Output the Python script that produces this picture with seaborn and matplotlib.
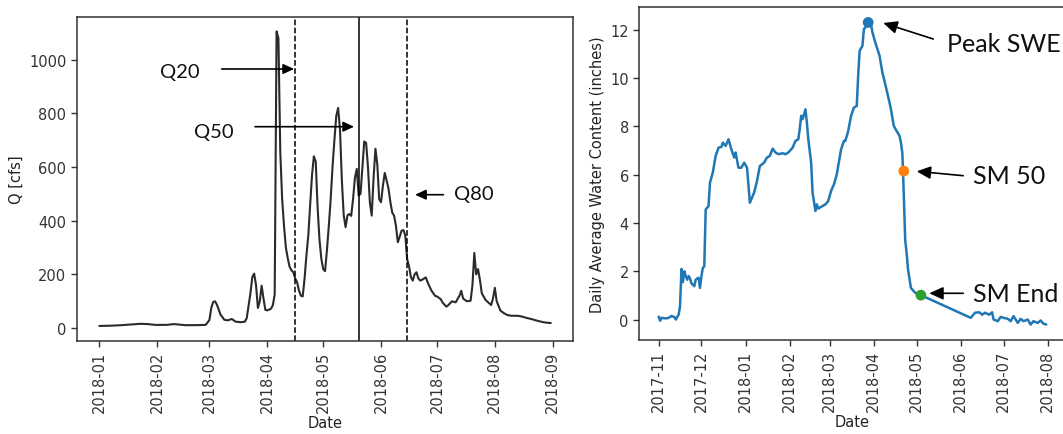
import numpy as np
import pandas as pd
import matplotlib
matplotlib.use("Agg")
import matplotlib.pyplot as plt
import matplotlib.dates as mdates
import seaborn as sns

# ---------------- data: left panel (daily discharge, days since q_start) ----------------
q_start = "2018-01-01"
q_day = [0, 6, 12, 18, 22, 26, 30, 36, 40, 46, 52, 57, 59, 60, 61, 62, 63, 65, 67, 69,
         71, 73, 76, 78, 79, 81, 82, 83, 84, 85, 86, 87, 88, 89, 90, 92, 93, 94, 95, 96,
         97, 98, 99, 100, 101, 102, 103, 104, 105, 106, 107, 108, 109, 110, 111, 112, 113, 114, 115, 116,
         117, 118, 119, 120, 121, 122, 123, 124, 125, 126, 127, 128, 129, 130, 131, 132, 133, 134, 135, 136,
         137, 138, 139, 140, 141, 142, 143, 144, 145, 146, 147, 148, 149, 150, 151, 152, 153, 154, 155, 156,
         157, 158, 159, 160, 161, 162, 163, 164, 165, 166, 167, 168, 169, 170, 171, 172, 173, 175, 176, 177,
         178, 180, 181, 183, 184, 186, 187, 189, 191, 193, 194, 195, 197, 199, 200, 201, 202, 203, 204, 205,
         207, 209, 210, 211, 212, 213, 215, 217, 219, 221, 224, 226, 229, 232, 235, 238, 240, 242]
q_cfs = [8, 9, 11, 14, 16, 15, 12, 12, 15, 11, 11, 12, 30, 75, 97, 100, 88, 50, 31, 29,
         34, 24, 22, 24, 37, 130, 190, 203, 160, 75, 100, 158, 110, 68, 66, 72, 85, 125, 1105, 1080,
         655, 480, 380, 300, 260, 228, 215, 208, 185, 171, 140, 121, 118, 183, 270, 344, 460, 570, 640, 620,
         450, 330, 258, 220, 212, 290, 380, 480, 600, 700, 790, 820, 740, 550, 420, 376, 420, 425, 418, 480,
         560, 593, 494, 500, 600, 695, 690, 600, 470, 419, 560, 668, 610, 480, 469, 530, 578, 550, 520, 470,
         430, 419, 380, 320, 340, 363, 365, 345, 257, 230, 190, 177, 200, 208, 185, 177, 180, 189, 170, 155,
         140, 120, 118, 108, 95, 80, 85, 100, 96, 120, 139, 110, 100, 102, 160, 280, 200, 220, 180, 130,
         105, 92, 86, 110, 150, 100, 65, 55, 48, 46, 46, 44, 38, 33, 27, 22, 20, 19]
q_lines = ["2018-04-16", "2018-05-20", "2018-06-15"]
q_line_styles = ["--", "-", "--"]
q_labels = ["Q20", "Q50", "Q80"]

# ---------------- data: right panel (SWE, days since swe_start) ----------------
swe_start = "2017-11-01"
swe_day = [0, 1, 2, 4, 6, 8, 9, 11, 12, 14, 15, 16, 17, 18, 19, 20, 21, 22, 23, 25,
           26, 27, 28, 29, 30, 31, 32, 33, 35, 36, 38, 40, 42, 44, 45, 47, 49, 51, 53, 54,
           56, 58, 60, 62, 64, 67, 69, 71, 74, 76, 78, 80, 82, 84, 87, 89, 91, 94, 96, 98,
           99, 100, 101, 103, 104, 105, 107, 108, 110, 111, 112, 115, 117, 119, 121, 123, 125, 128, 130, 131,
           133, 135, 137, 139, 140, 141, 143, 144, 145, 147, 149, 150, 152, 155, 157, 159, 162, 163, 165, 167,
           169, 170, 171, 172, 173, 174, 175, 177, 178, 180, 184, 219, 220, 222, 225, 227, 229, 232, 234, 235,
           238, 240, 242, 245, 247, 249, 252, 254, 256, 259, 261, 263, 266, 268, 270, 272]
swe_in = [0.12, -0.05, 0.07, 0.05, 0.05, 0.10, 0.15, 0.10, 0.0, 0.2, 0.55, 2.1, 1.55, 2.0, 1.8, 1.65, 1.8, 1.7, 1.5, 1.38,
          1.65, 1.7, 1.73, 1.31, 1.8, 2.14, 2.2, 4.56, 4.7, 5.67, 6.09, 6.78, 7.12, 7.15, 7.33, 7.19, 7.47, 7.05, 6.71, 6.92,
          6.29, 6.29, 6.5, 6.29, 4.84, 5.26, 5.74, 6.36, 6.5, 6.71, 6.78, 7.08, 6.92, 6.85, 6.89, 6.85, 6.92, 7.12, 7.4, 7.47,
          7.9, 8.44, 8.3, 8.71, 8.16, 7.47, 6.5, 5.26, 4.5, 4.77, 4.6, 4.7, 4.77, 4.91, 5.33, 5.6, 6.02, 7.05, 7.4, 7.4,
          7.81, 8.44, 8.78, 8.85, 10.1, 11.13, 11.34, 12.03, 12.1, 12.31, 12.24, 11.9, 11.48, 10.93, 10.23, 9.75, 8.99, 8.71, 8.02, 7.81,
          7.61, 7.33, 6.9, 5.2, 3.3, 2.75, 2.07, 1.31, 1.24, 1.11, 1.01, 0.07, 0.14, 0.28, 0.3, 0.2, 0.28, 0.2, 0.3, 0.0,
          -0.07, 0.11, 0.07, 0.03, -0.07, 0.14, -0.14, 0.03, -0.07, 0.0, -0.21, -0.07, -0.14, -0.04, -0.17, -0.21]
sm50_date, sm50_value = "2018-04-22", 6.15
smend_date, smend_value = "2018-05-04", 1.01
swe_labels = ["Peak SWE", "SM 50", "SM End"]

assert len(q_day) == len(q_cfs)
assert len(swe_day) == len(swe_in)

# ---------------- frames ----------------
q_df = pd.DataFrame({"Date": pd.Timestamp(q_start) + pd.to_timedelta(q_day, unit="D"),
                     "Q": q_cfs})
swe_df = pd.DataFrame({"Date": pd.Timestamp(swe_start) + pd.to_timedelta(swe_day, unit="D"),
                       "SWE": swe_in})
peak_row = swe_df.loc[swe_df["SWE"].idxmax()]
pts = pd.DataFrame({"Date": [peak_row["Date"], pd.Timestamp(sm50_date), pd.Timestamp(smend_date)],
                    "SWE": [peak_row["SWE"], sm50_value, smend_value],
                    "Label": swe_labels})

# ---------------- style ----------------
sns.set_style("ticks")
plt.rcParams["font.family"] = ["DejaVu Sans"]
plt.rcParams["axes.edgecolor"] = "#333333"
plt.rcParams["xtick.color"] = "#333333"
plt.rcParams["ytick.color"] = "#333333"
plt.rcParams["text.color"] = "#222222"
plt.rcParams["axes.labelcolor"] = "#222222"
TICK_FS = 10.5
ANN_FONT = ["Lato", "DejaVu Sans"]

fig = plt.figure(figsize=(10.63, 4.35), dpi=100)
axL = fig.add_axes([0.0722, 0.2145, 0.4672, 0.7448])
axR = fig.add_axes([0.6014, 0.2168, 0.4011, 0.7641])

# ---------------- left panel ----------------
sns.lineplot(data=q_df, x="Date", y="Q", ax=axL, color="#2b2b2b", lw=1.5)
for d, ls in zip(q_lines, q_line_styles):
    axL.axvline(pd.Timestamp(d), color="black", ls=ls, lw=1.1)
axL.set_ylabel("Q [cfs]", fontsize=TICK_FS)
axL.set_xlabel("Date", fontsize=TICK_FS, labelpad=2)

arrow_kw = dict(arrowstyle="-|>,head_length=0.65,head_width=0.3", color="black",
                lw=1.2, mutation_scale=10, shrinkA=0, shrinkB=0)
# (tail, tip, text centre) in axes fraction
left_ann = [((0.292, 0.8386), (0.4376, 0.8386), (0.2082, 0.8324)),
            ((0.359, 0.6605), (0.5584, 0.6605), (0.2767, 0.6457)),
            ((0.7382, 0.4506), (0.6812, 0.4506), (0.8004, 0.4528))]
for lab, (tail, tip, txt) in zip(q_labels, left_ann):
    axL.annotate("", xy=tip, xytext=tail, xycoords="axes fraction",
                 textcoords="axes fraction", arrowprops=arrow_kw)
    axL.text(txt[0], txt[1], lab, transform=axL.transAxes, ha="center", va="center",
             fontsize=14.5, family=ANN_FONT, color="#111111")

# ---------------- right panel ----------------
sns.lineplot(data=swe_df, x="Date", y="SWE", ax=axR, color="#1f77b4", lw=1.8)
sns.scatterplot(data=pts, x="Date", y="SWE", hue="Label", palette=["#1f77b4", "#ff7f0e", "#2ca02c"],
                s=60, edgecolor="none", ax=axR, legend=False, zorder=5)
axR.set_ylabel("Daily Average Water Content (inches)", fontsize=TICK_FS)
axR.set_xlabel("Date", fontsize=TICK_FS, labelpad=2)

arrow_kw2 = dict(arrowstyle="-|>,head_length=0.7,head_width=0.32", color="black",
                 lw=1.2, mutation_scale=12, shrinkA=0, shrinkB=0)
right_ann = [((0.6895, 0.9046), (0.5722, 0.9528), (0.7209, 0.8926)),
             ((0.7598, 0.4934), (0.6506, 0.5066), (0.7833, 0.4934)),
             ((0.7598, 0.1396), (0.6801, 0.1396), (0.7833, 0.1375))]
for lab, (tail, tip, txt) in zip(swe_labels, right_ann):
    axR.annotate("", xy=tip, xytext=tail, xycoords="axes fraction",
                 textcoords="axes fraction", arrowprops=arrow_kw2)
    axR.text(txt[0], txt[1], lab, transform=axR.transAxes, ha="left", va="center",
             fontsize=18, family=ANN_FONT, color="#111111")

# ---------------- axes cosmetics ----------------
for ax in (axL, axR):
    ax.xaxis.set_major_locator(mdates.MonthLocator())
    ax.xaxis.set_major_formatter(mdates.DateFormatter("%Y-%m"))
    ax.tick_params(axis="both", labelsize=TICK_FS, length=4, width=1)
    for lbl in ax.get_xticklabels():
        lbl.set_rotation(90)
    for sp in ax.spines.values():
        sp.set_visible(True)
        sp.set_linewidth(1.1)

fig.savefig("out.png", dpi=100)
